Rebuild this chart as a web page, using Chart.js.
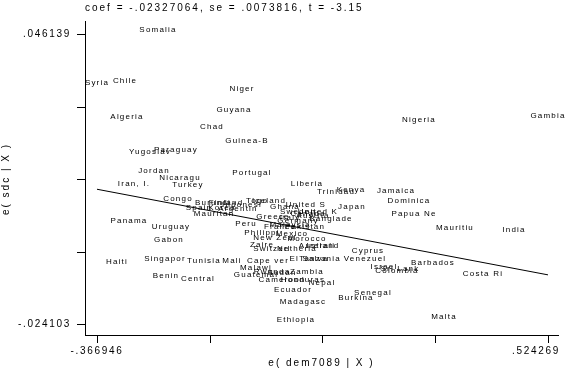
<!DOCTYPE html>
<html>
<head>
<meta charset="utf-8">
<script src="https://cdn.jsdelivr.net/npm/chart.js@4.4.1/dist/chart.umd.min.js"></script>
<style>
  html, body { margin: 0; padding: 0; background: #fff; }
  canvas { display: block; }
</style>
</head>
<body>
<canvas id="c" width="566" height="377"></canvas>
<script>
// country labels, residual of dem7089 (x) and residual of sdc (y)
const countries = [
  "Somalia", "Syria", "Chile", "Niger", "Guyana", "Algeria", "Chad", "Nigeria", "Gambia", "Guinea-B",
  "Yugoslav", "Paraguay", "Jordan", "Nicaragu", "Portugal", "Iran, I.", "Turkey", "Liberia", "Trinidad", "Kenya",
  "Jamaica", "Dominica", "Japan", "Papua Ne", "Congo", "Burundi", "Finland", "Indonesi", "Spain", "Korea",
  "Argentin", "Mauritan", "Togo", "Iceland", "Ghana", "United S", "United K", "Banglade", "Greece", "Sweden",
  "Canada", "Italy", "Germany", "Austria", "Pakistan", "Peru", "France", "Malaysia", "Philippi", "New Zeal",
  "Mexico", "Morocco", "Zaire", "Switzerl", "Netherla", "Australi", "Ireland", "Panama", "Uruguay", "Gabon",
  "Mauritiu", "India", "Cyprus", "Venezuel", "Barbados", "Israel", "Colombia", "Sri Lank", "Costa Ri", "Haiti",
  "Singapor", "Tunisia", "Mali", "Cape ver", "El Salva", "Tanzania", "Benin", "Central", "Malawi", "Guatemal",
  "Rwanda", "Sudan", "Zambia", "Cameroon", "Honduras", "Nepal", "Ecuador", "Madagasc", "Burkina", "Senegal",
  "Malta", "Ethiopia"
];
const demResid = [
  -.24641, -.366946, -.31162, -.08042, -.09622, -.30767, -.13970, .26935, .524269, -.07053,
  -.26222, -.21084, -.25431, -.20293, -.06065, -.29383, -.18712, .04803, .10534, .13498,
  .22390, .24959, .13696, .25947, -.20689, -.13772, -.11203, -.08042, -.16539, -.11994,
  -.08832, -.13575, -.05077, -.02706, .00456, .04605, .06977, .09546, -.01916, .03025,
  .05001, .01444, .03025, .05989, .04408, -.07251, -.00532, .01444, -.04089, -.01520,
  .01839, .04803, -.04089, -.02113, .02827, .06779, .07965, -.30371, -.22072, -.22467,
  .34049, .45708, .16857, .16264, .29702, .20019, .22588, .23181, .39582, -.32743,
  -.23258, -.15551, -.10018, -.02904, .05198, .07372, -.23060, -.16736, -.05275, -.05275,
  -.02113, -.00137, .04803, -.00137, .04013, .07767, .02037, .04013, .14486, .17845,
  .31876, .02629
];
const sdcResid = [
  .046139, .033302, .033786, .031849, .026762, .025067, .022645, .024340, .025309, .019254,
  .016589, .017074, .011987, .010292, .011503, .008839, .008596, .008839, .006901, .007385,
  .007143, .004721, .003268, .001572, .005206, .004237, .004237, .003752, .003026, .003026,
  .002783, .001572, .004721, .004721, .003268, .003752, .002057, .000361, .000846, .002057,
  .001572, .000604, -.000123, .001088, -.001576, -.000850, -.001576, -.001092, -.003030, -.004241,
  -.003272, -.004483, -.005936, -.006905, -.006905, -.006178, -.006178, -.000123, -.001576, -.004725,
  -.001819, -.002303, -.007389, -.009327, -.010296, -.011265, -.012234, -.011749, -.012960, -.010054,
  -.009327, -.009812, -.009812, -.009812, -.009327, -.009327, -.013445, -.014171, -.011507, -.013202,
  -.012476, -.012718, -.012476, -.014414, -.014414, -.015140, -.016836, -.019742, -.018774, -.017563,
  -.023376, -.024103
];

// fitted line endpoints
const fitX = [-.366946, .524269];
const fitY = [.008539, -.012200];

// axis ticks
const xTicks = [-.366946, -.144142, .078662, .301465, .524269];
const xTickLabels = ["-.366946", "", "", "", ".524269"];
const yTicks = [.046139, .028578, .011018, -.006543, -.024103];
const yTickLabels = [".046139", "", "", "", "-.024103"];

const titleText = "coef = -.02327064, se = .0073816, t = -3.15";
const xTitle = "e( dem7089 | X )";
const yTitle = "e( sdc | X )";

const FONT = '"Liberation Sans", Arial, sans-serif';

const stataPlugin = {
  id: "stata",
  beforeDraw(chart) {
    const ctx = chart.ctx;
    ctx.save();
    ctx.fillStyle = "#fff";
    ctx.fillRect(0, 0, chart.width, chart.height);
    ctx.restore();
  },
  afterDraw(chart) {
    const ctx = chart.ctx;
    const xs = chart.scales.x, ys = chart.scales.y;
    const area = chart.chartArea;
    ctx.save();
    ctx.strokeStyle = "#000";
    ctx.fillStyle = "#000";
    ctx.lineWidth = 1;

    // tick marks
    ctx.beginPath();
    xTicks.forEach(v => {
      const px = Math.round(xs.getPixelForValue(v)) + 0.5;
      ctx.moveTo(px, area.bottom);
      ctx.lineTo(px, area.bottom + 8);
    });
    yTicks.forEach(v => {
      const py = Math.round(ys.getPixelForValue(v)) + 0.5;
      ctx.moveTo(area.left - 8, py);
      ctx.lineTo(area.left, py);
    });
    ctx.stroke();

    // tick labels
    ctx.font = "10px " + FONT;
    ctx.letterSpacing = "1.7px";
    ctx.textBaseline = "middle";
    xTickLabels.forEach((t, i) => {
      if (!t) return;
      const px = xs.getPixelForValue(xTicks[i]);
      if (i === xTicks.length - 1) {
        ctx.textAlign = "right";
        ctx.fillText(t, area.right + 2, area.bottom + 16);
      } else {
        ctx.textAlign = "center";
        ctx.fillText(t, px, area.bottom + 16);
      }
    });
    ctx.textAlign = "right";
    yTickLabels.forEach((t, i) => {
      if (!t) return;
      ctx.fillText(t, area.left - 14, ys.getPixelForValue(yTicks[i]));
    });

    // titles
    ctx.letterSpacing = "2px";
    ctx.textAlign = "center";
    ctx.fillText(xTitle, (area.left + area.right) / 2, area.bottom + 28);
    ctx.save();
    ctx.translate(6, ys.getPixelForValue((yTicks[0] + yTicks[4]) / 2));
    ctx.rotate(-Math.PI / 2);
    ctx.fillText(yTitle, 0, 0);
    ctx.restore();
    ctx.textAlign = "left";
    ctx.fillText(titleText, area.left, 8);

    // country labels at the points
    ctx.font = "8px " + FONT;
    ctx.letterSpacing = "1.2px";
    ctx.textAlign = "center";
    countries.forEach((name, i) => {
      const px = xs.getPixelForValue(demResid[i]);
      const py = ys.getPixelForValue(sdcResid[i]);
      ctx.fillText(name, px, py - 4);
    });
    ctx.restore();
  }
};

new Chart(document.getElementById("c"), {
  type: "scatter",
  data: {
    datasets: [
      {
        data: countries.map((c, i) => ({ x: demResid[i], y: sdcResid[i] })),
        pointRadius: 0,
        showLine: false
      },
      {
        type: "line",
        data: fitX.map((x, i) => ({ x: x, y: fitY[i] })),
        borderColor: "#000",
        borderWidth: 1,
        pointRadius: 0,
        fill: false
      }
    ]
  },
  options: {
    responsive: false,
    animation: false,
    devicePixelRatio: 1,
    layout: { padding: { left: 85, right: 8, top: 21, bottom: 42 } },
    plugins: { legend: { display: false }, tooltip: { enabled: false } },
    scales: {
      x: {
        type: "linear",
        min: -.390659,
        max: .544036,
        ticks: { display: false },
        grid: { display: false, drawTicks: false },
        border: { display: true, color: "#000", width: 1 }
      },
      y: {
        type: "linear",
        min: -.026766,
        max: .049288,
        ticks: { display: false },
        grid: { display: false, drawTicks: false },
        border: { display: true, color: "#000", width: 1 }
      }
    }
  },
  plugins: [stataPlugin]
});
</script>
</body>
</html>
